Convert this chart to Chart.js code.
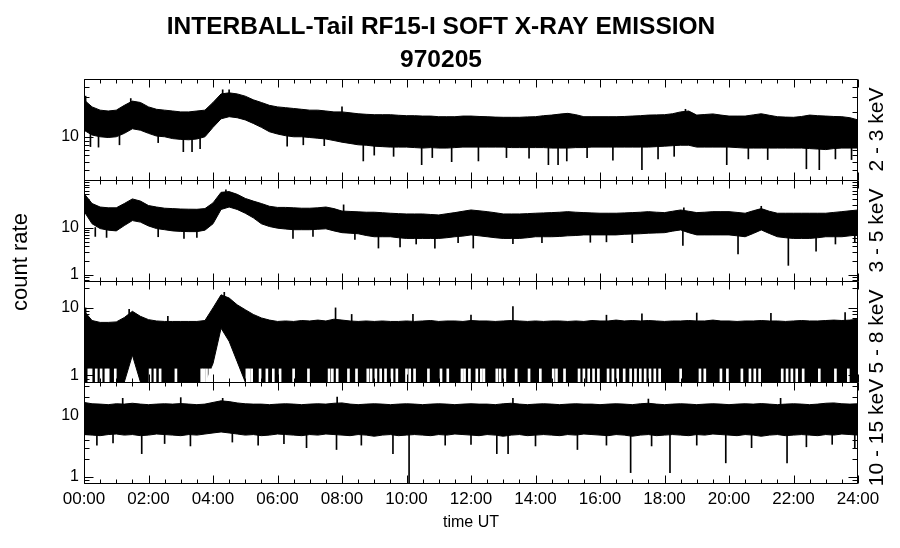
<!DOCTYPE html>
<html>
<head>
<meta charset="utf-8">
<title>INTERBALL-Tail RF15-I SOFT X-RAY EMISSION 970205</title>
<script src="https://cdn.jsdelivr.net/npm/chart.js@4.4.1/dist/chart.umd.min.js"></script>
<style>
  html, body { margin: 0; padding: 0; background: #fff; }
  #wrap { width: 900px; height: 548px; }
</style>
</head>
<body>
<div id="wrap"><canvas id="xray" width="900" height="548"></canvas></div>
<script>
// sample times, hours UT (15 min steps)
var hours = [
  0, 0.25, 0.5, 0.75, 1, 1.25, 1.5, 1.75, 2, 2.25, 2.5, 2.75,
  3, 3.25, 3.5, 3.75, 4, 4.25, 4.5, 4.75, 5, 5.25, 5.5, 5.75,
  6, 6.25, 6.5, 6.75, 7, 7.25, 7.5, 7.75, 8, 8.25, 8.5, 8.75,
  9, 9.25, 9.5, 9.75, 10, 10.25, 10.5, 10.75, 11, 11.25, 11.5, 11.75,
  12, 12.25, 12.5, 12.75, 13, 13.25, 13.5, 13.75, 14, 14.25, 14.5, 14.75,
  15, 15.25, 15.5, 15.75, 16, 16.25, 16.5, 16.75, 17, 17.25, 17.5, 17.75,
  18, 18.25, 18.5, 18.75, 19, 19.25, 19.5, 19.75, 20, 20.25, 20.5, 20.75,
  21, 21.25, 21.5, 21.75, 22, 22.25, 22.5, 22.75, 23, 23.25, 23.5, 23.75,
  24
];
var bandNames = ['2 - 3 keV', '3 - 5 keV', '5 - 8 keV', '10 - 15 keV'];

// upper / lower edge of the dense count-rate band, per energy channel
var p1Hi = [
  28, 23, 21, 20.5, 21, 24, 27, 26, 23, 21.5, 21, 20.5,
  20, 20, 20.5, 21, 26, 33, 34, 33, 31, 28, 26, 24,
  23, 22.5, 22, 21.5, 21, 21, 20.5, 20, 20, 19.5, 19, 18.7,
  18.5, 18.5, 18.5, 18.2, 18, 18, 17.8, 17.8, 17.5, 17.5, 17.5, 17.8,
  17.8, 17.6, 17.5, 17.3, 17.2, 17.2, 17.2, 17.4, 17.5, 18, 18.3, 18.8,
  19.2, 18.5, 17.5, 17.5, 17.5, 17.5, 17.5, 17.6, 17.8, 18, 18.3, 18.4,
  18.5, 19, 20, 20.5, 18.3, 18.6, 18.9, 18.3, 17.8, 17.8, 17.8, 18.4,
  19, 18.2, 17.5, 17.3, 17.2, 17.6, 18.3, 18, 17.8, 17.6, 17.5, 17,
  16
];
var p1Lo = [
  12, 10.5, 10, 9.8, 10, 11, 12.5, 12, 11, 10.2, 10, 9.5,
  9.3, 9.2, 9.4, 10, 13, 16.5, 17.5, 17, 16, 14.5, 13, 11.5,
  10.8, 10.3, 10, 10, 9.8, 9.6, 9.4, 9.0, 8.6, 8.3, 8.0, 7.9,
  7.7, 7.6, 7.5, 7.5, 7.5, 7.4, 7.3, 7.4, 7.3, 7.3, 7.4, 7.5,
  7.5, 7.5, 7.5, 7.5, 7.5, 7.4, 7.4, 7.4, 7.4, 7.4, 7.3, 7.3,
  7.3, 7.4, 7.4, 7.5, 7.5, 7.5, 7.5, 7.5, 7.5, 7.5, 7.5, 7.6,
  7.7, 7.8, 7.9, 7.9, 7.5, 7.5, 7.5, 7.5, 7.5, 7.4, 7.3, 7.3,
  7.3, 7.3, 7.3, 7.3, 7.3, 7.3, 7.2, 7.1, 7.0, 7.2, 7.3, 7.3,
  7.3
];
var p2Hi = [
  52, 32, 27, 26, 26, 32, 40, 36, 29, 27, 25.5, 25,
  24.5, 24.3, 24.2, 25, 33, 55, 57, 50, 41, 36, 32, 28,
  26.5, 26.5, 26, 25.5, 25.5, 26, 27, 25, 22.2, 21.8, 21.4, 21,
  21, 20.5, 20, 19.6, 19.3, 19.3, 19.3, 18.8, 18.4, 19.5, 20.6, 22,
  23.4, 22.5, 21.6, 20.5, 19.3, 19.3, 19.3, 19.6, 20, 20.3, 20.6, 21,
  21.6, 21, 20.6, 20.3, 20, 20, 20, 20.3, 20.6, 21, 21.6, 21,
  20.6, 22, 23.4, 22, 20.6, 21, 21.6, 21.6, 21.6, 20.8, 20, 22.5,
  25, 22, 20, 20, 20, 20, 20, 20, 20, 20.8, 21.6, 22.5,
  23.4
];
var p2Lo = [
  22, 12, 9.5, 8.8, 8.5, 11, 14, 13, 10.8, 9.5, 9, 8.5,
  8.3, 8.2, 8.2, 8.8, 12, 24, 27, 24, 20, 16, 12, 10.5,
  9.7, 9.3, 9, 9, 9, 9.2, 9.4, 8.5, 7.8, 7.6, 7.4, 6.8,
  6.4, 6.4, 6.4, 6.1, 5.9, 5.9, 5.9, 5.9, 5.9, 6.1, 6.4, 6.6,
  7.0, 6.7, 6.4, 6.1, 5.9, 5.9, 5.9, 6.1, 6.4, 6.4, 6.4, 6.5,
  6.7, 6.8, 7.0, 7.0, 7.0, 7.0, 7.0, 7.2, 7.3, 7.4, 7.6, 7.7,
  7.8, 8.4, 8.9, 7.8, 7.0, 7.0, 7.0, 7.0, 7.0, 6.7, 6.4, 7.5,
  8.9, 7.5, 6.4, 6.1, 5.9, 5.9, 5.9, 6.1, 6.4, 6.4, 6.4, 6.7,
  7.0
];
var p3Hi = [
  9, 6.5, 6.1, 6.1, 6.2, 7.2, 8.9, 7.5, 6.7, 6.4, 6.3, 6.3,
  6.3, 6.3, 6.3, 6.5, 10, 15.6, 14, 11.1, 9.4, 8.0, 7.1, 6.6,
  6.3, 6.4, 6.3, 6.5, 6.4, 6.6, 6.4, 6.8, 6.6, 6.4, 6.3, 6.4,
  6.3, 6.4, 6.3, 6.3, 6.4, 6.3, 6.4, 6.5, 6.3, 6.4, 6.4, 6.3,
  6.5, 6.4, 6.4, 6.3, 6.4, 6.5, 6.4, 6.3, 6.4, 6.3, 6.4, 6.4,
  6.3, 6.4, 6.3, 6.5, 6.4, 6.4, 6.6, 6.4, 6.5, 6.4, 6.5, 6.4,
  6.3, 6.4, 6.4, 6.5, 6.4, 6.4, 6.6, 6.4, 6.4, 6.3, 6.4, 6.4,
  6.5, 6.4, 6.4, 6.3, 6.4, 6.5, 6.4, 6.4, 6.5, 6.6, 6.5, 6.6,
  6.8
];
var p3Lo = [
  0.8, 0.8, 0.8, 0.8, 0.8, 0.8, 2.0, 0.8, 0.8, 0.8, 0.8, 0.8,
  0.8, 0.8, 0.8, 0.8, 1.5, 5.0, 3.2, 1.6, 0.8, 0.8, 0.8, 0.8,
  0.8, 0.8, 0.8, 0.8, 0.8, 0.8, 0.8, 0.8, 0.8, 0.8, 0.8, 0.8,
  0.8, 0.8, 0.8, 0.8, 0.8, 0.8, 0.8, 0.8, 0.8, 0.8, 0.8, 0.8,
  0.8, 0.8, 0.8, 0.8, 0.8, 0.8, 0.8, 0.8, 0.8, 0.8, 0.8, 0.8,
  0.8, 0.8, 0.8, 0.8, 0.8, 0.8, 0.8, 0.8, 0.8, 0.8, 0.8, 0.8,
  0.8, 0.8, 0.8, 0.8, 0.8, 0.8, 0.8, 0.8, 0.8, 0.8, 0.8, 0.8,
  0.8, 0.8, 0.8, 0.8, 0.8, 0.8, 0.8, 0.8, 0.8, 0.8, 0.8, 0.8,
  0.8
];
var p4Hi = [
  16.3, 15.5, 15.3, 15.0, 15.5, 15.3, 15.8, 15.3, 15.0, 15.3, 15.5, 15.3,
  15.6, 15.3, 15.0, 15.3, 16.3, 17.3, 16.8, 16.0, 15.5, 15.3, 15.3, 15.0,
  15.3, 15.5, 15.3, 15.0, 15.3, 15.5, 15.3, 15.8, 16.0, 15.3, 15.0, 15.3,
  15.5, 15.3, 15.0, 15.3, 15.5, 15.3, 15.0, 15.3, 15.5, 15.3, 15.0, 15.3,
  15.5, 15.3, 15.3, 15.0, 15.5, 15.8, 15.3, 15.0, 15.3, 15.5, 15.3, 15.0,
  15.3, 15.5, 15.3, 15.3, 15.0, 15.3, 15.5, 15.3, 15.0, 15.5, 15.8, 15.3,
  15.0, 15.3, 15.5, 15.3, 15.0, 15.3, 15.5, 15.3, 15.0, 15.3, 15.5, 15.3,
  15.6, 15.3, 15.0, 15.3, 15.5, 15.3, 15.0, 15.3, 15.8, 16.0, 15.5, 15.3,
  15.5
];
var p4Lo = [
  4.9, 4.8, 4.7, 4.9, 5.0, 4.8, 4.9, 4.7, 4.8, 5.0, 4.9, 4.8,
  4.7, 4.9, 4.8, 5.0, 5.2, 5.4, 5.2, 5.0, 4.8, 4.9, 4.7, 4.8,
  5.0, 4.9, 4.8, 4.7, 4.9, 4.8, 5.0, 4.9, 4.8, 4.7, 4.9, 4.8,
  4.6, 4.8, 4.9, 4.7, 4.8, 4.9, 4.8, 4.7, 4.9, 4.8, 5.0, 4.9,
  4.8, 4.7, 4.9, 4.8, 4.6, 4.8, 4.9, 4.7, 4.8, 4.9, 4.8, 4.7,
  4.9, 4.8, 5.0, 4.9, 4.8, 4.7, 4.9, 4.8, 4.6, 4.8, 4.9, 4.7,
  4.8, 4.9, 4.8, 4.7, 4.9, 4.8, 5.0, 4.9, 4.8, 4.7, 4.9, 4.8,
  4.6, 4.8, 4.9, 4.7, 4.8, 4.9, 4.8, 4.7, 4.9, 4.8, 5.0, 4.9,
  4.8
];

// single readings sticking out of the band (time, low end, high end)
var p1SpikeT = [0.05, 0.2, 0.45, 1.1, 1.45, 2.3, 3.08, 3.35, 3.6, 4.3, 4.5, 6.3, 6.8, 7.45, 8.0, 8.66, 9.0, 9.6, 10.47, 10.8,
  11.4, 12.23, 13.1, 13.8, 14.4, 14.7, 14.97, 15.6, 16.4, 17.3, 17.8, 18.3, 18.65, 19.93, 20.6, 21.2, 22.4, 22.8, 23.3, 23.8];
var p1SpikeLo = [15, 7.6, 7.5, 8.0, 18, 8.5, 6.6, 6.6, 7.2, 20, 20, 7.7, 8.0, 7.8, 12, 5.1, 6.0, 5.8, 4.6, 5.6,
  5.0, 5.1, 5.6, 5.5, 4.6, 4.6, 5.1, 5.6, 5.2, 4.0, 5.4, 5.8, 12, 4.6, 5.4, 5.3, 4.1, 4.0, 5.4, 5.3];
var p1SpikeHi = [31, 11, 11, 11, 29, 11, 10, 10, 10, 37, 37, 11, 11, 11, 23, 9, 9, 9, 9, 9,
  9, 9, 9, 9, 9, 9, 9, 9, 9, 9, 9, 9, 21.5, 9, 9, 9, 9, 9, 9, 9];

var p2SpikeT = [0.35, 0.7, 2.3, 3.1, 3.5, 4.4, 6.48, 7.1, 8.05, 8.4, 9.13, 9.8, 10.3, 10.88, 11.6,
  12.07, 13.3, 14.2, 15.7, 16.2, 17.0, 18.57, 18.6, 20.28, 21.0, 21.84, 22.7, 23.3, 23.9];
var p2SpikeLo = [6.5, 6.2, 6.4, 5.9, 6.2, 30, 5.9, 6.5, 12, 5.6, 3.7, 3.9, 4.5, 3.7, 4.8,
  3.7, 4.6, 4.8, 4.9, 5.0, 4.8, 4.2, 12, 2.8, 12, 1.6, 3.2, 4.5, 5.0];
var p2SpikeHi = [10, 10, 10, 10, 10, 62, 10, 10, 30, 9, 9, 9, 9, 9, 9,
  9, 9, 9, 9, 9, 9, 9, 26, 9, 28, 9, 9, 9, 9];

var p3SpikeT = [0.05, 1.4, 2.6, 4.35, 7.8, 8.3, 10.2, 12.0, 13.3, 16.2, 17.3, 19.0, 21.3, 23.6];
var p3SpikeLo = [5, 5, 4, 8, 5, 5, 5, 5, 5, 5, 5, 5, 5, 5];
var p3SpikeHi = [10, 9.5, 7.5, 17, 10, 8, 8, 7.8, 10.5, 7.8, 8.2, 8.4, 8.3, 8.5];

// times where the 5-8 keV channel has no zero-count readings (white columns at the bottom)
var p3GapT = [0.15, 0.22, 0.38, 0.53, 0.68, 0.75, 0.97, 2.05, 2.2, 2.36, 2.85, 3.65, 3.72, 3.8, 3.9,
  5.05, 5.12, 5.2, 5.46, 5.67, 5.87, 6.08, 6.5, 6.96, 7.6, 7.7, 7.85, 8.2, 8.45, 8.8, 8.9, 9.05,
  9.2, 9.35, 9.55, 9.7, 10.0, 10.1, 10.25, 10.68, 11.07, 11.28, 11.72, 11.8, 11.95, 12.18, 12.32,
  12.4, 12.8, 12.9, 13.05, 13.4, 13.8, 14.15, 14.55, 14.65, 14.9, 15.35, 15.5, 15.65, 15.8, 15.95,
  16.25, 16.4, 16.55, 16.75, 16.95, 17.1, 17.25, 17.4, 17.55, 17.7, 17.85, 18.5, 19.1, 19.25,
  19.75, 19.95, 20.4, 20.65, 20.8, 20.95, 21.65, 21.8, 21.95, 22.1, 22.3, 22.8, 23.3, 23.7];
var p3GapTop = 1.25;

var p4SpikeT = [0.4, 0.9, 1.2, 1.79, 2.5, 3.0, 3.3, 4.3, 4.6, 5.4, 6.2, 6.9, 7.83, 7.85, 8.6, 9.58, 10.08,
  11.2, 12.0, 12.8, 13.15, 13.3, 14.0, 15.3, 16.2, 16.95, 17.5, 17.6, 18.17, 19.0, 19.9, 20.7, 21.6,
  21.8, 22.4, 23.2, 23.9];
var p4SpikeLo = [3.3, 3.6, 10, 2.4, 3.5, 10, 3.2, 10, 3.7, 3.3, 3.5, 3.0, 2.8, 10, 3.3, 2.4, 0.8,
  3.3, 3.4, 2.4, 2.4, 10, 3.2, 2.8, 3.3, 1.18, 10, 3.2, 1.18, 3.3, 1.7, 3.0, 10,
  1.7, 3.1, 3.4, 2.9];
var p4SpikeHi = [8, 8, 19, 8, 8, 19.5, 8, 19, 8, 8, 8, 8, 8, 20, 8, 8, 8,
  8, 8, 8, 8, 19, 8, 8, 8, 8, 18.5, 8, 8, 8, 8, 8, 19,
  8, 8, 8, 8];

var FONT = '"Liberation Sans", Arial, Helvetica, sans-serif';
Chart.defaults.font.family = FONT;
Chart.defaults.color = '#000';

var panelIds = ['p1', 'p2', 'p3', 'p4'];

function band(hi, lo, axis) {
  return [{
    type: 'line',
    data: hours.map(function (h, i) { return { x: h, y: hi[i] }; }),
    yAxisID: axis,
    borderColor: '#000',
    borderWidth: 1,
    pointRadius: 0,
    fill: false
  }, {
    type: 'line',
    data: hours.map(function (h, i) { return { x: h, y: lo[i] }; }),
    yAxisID: axis,
    borderColor: '#000',
    borderWidth: 1,
    pointRadius: 0,
    backgroundColor: '#000',
    fill: '-1'
  }];
}

function spikes(t, lo, hi, axis, color, width) {
  return {
    type: 'bar',
    data: t.map(function (v, i) { return { x: v, y: [lo[i], hi[i]] }; }),
    yAxisID: axis,
    backgroundColor: color,
    barThickness: width,
    grouped: false,
    order: -1
  };
}

function logAxis(min, max) {
  return {
    type: 'logarithmic',
    position: 'left',
    stack: 'panels',
    stackWeight: 1,
    min: min,
    max: max,
    grid: { display: false, drawTicks: false },
    border: { display: false },
    ticks: {
      autoSkip: false,
      padding: 5,
      font: { size: 16 },
      callback: function (v) { return (v === 1 || v === 10) ? String(v) : ''; }
    },
    afterFit: function (s) { s.width = 84; }
  };
}

// frames, inward tick marks and the rotated side labels
var panelFrames = {
  id: 'panelFrames',
  afterDatasetsDraw: function (chart) {
    var ctx = chart.ctx, area = chart.chartArea, xs = chart.scales.x;
    var left = Math.round(area.left) + 0.5, right = Math.round(area.right) - 0.5;
    ctx.save();
    ctx.strokeStyle = '#000';
    ctx.lineWidth = 1;
    ctx.beginPath();
    panelIds.forEach(function (id) {
      var s = chart.scales[id];
      var top = Math.round(s.top) + 0.5, bot = Math.round(s.bottom) + 0.5;
      ctx.rect(left, top, right - left, bot - top);
      for (var h = 0; h <= 24; h += 0.5) {
        var px = Math.round(xs.getPixelForValue(h)) + 0.5;
        var len = (h % 2 === 0) ? 8 : 4;
        ctx.moveTo(px, top); ctx.lineTo(px, top + len);
        ctx.moveTo(px, bot); ctx.lineTo(px, bot - len);
      }
      var k0 = Math.floor(Math.log10(s.min)), k1 = Math.floor(Math.log10(s.max));
      for (var k = k0; k <= k1; k++) {
        for (var m = 1; m <= 9; m++) {
          var v = m * Math.pow(10, k);
          if (v < s.min * 0.999 || v > s.max * 1.001) continue;
          var py = Math.round(s.getPixelForValue(v)) + 0.5;
          var tl = (m === 1) ? 9 : 5;
          ctx.moveTo(left, py); ctx.lineTo(left + tl, py);
          ctx.moveTo(right, py); ctx.lineTo(right - tl, py);
        }
      }
    });
    ctx.stroke();
    ctx.restore();
  },
  afterDraw: function (chart) {
    var ctx = chart.ctx;
    ctx.save();
    ctx.fillStyle = '#000';
    ctx.textAlign = 'center';
    ctx.textBaseline = 'middle';
    ctx.font = '22px ' + FONT;
    ctx.save();
    ctx.translate(21, 262);
    ctx.rotate(-Math.PI / 2);
    ctx.fillText('count rate', 0, 0);
    ctx.restore();
    ctx.font = '21px ' + FONT;
    panelIds.forEach(function (id, i) {
      var s = chart.scales[id];
      ctx.save();
      ctx.translate(877, (s.top + s.bottom) / 2);
      ctx.rotate(-Math.PI / 2);
      ctx.fillText(bandNames[i], 0, 0);
      ctx.restore();
    });
    ctx.restore();
  }
};

var datasets = []
  .concat(band(p1Hi, p1Lo, 'p1'))
  .concat(band(p2Hi, p2Lo, 'p2'))
  .concat(band(p3Hi, p3Lo, 'p3'))
  .concat(band(p4Hi, p4Lo, 'p4'));
datasets.push(spikes(p1SpikeT, p1SpikeLo, p1SpikeHi, 'p1', '#000', 1));
datasets.push(spikes(p2SpikeT, p2SpikeLo, p2SpikeHi, 'p2', '#000', 1));
datasets.push(spikes(p3SpikeT, p3SpikeLo, p3SpikeHi, 'p3', '#000', 1));
datasets.push(spikes(p4SpikeT, p4SpikeLo, p4SpikeHi, 'p4', '#000', 1));
datasets.push(spikes(p3GapT, p3GapT.map(function () { return 0.8; }),
  p3GapT.map(function () { return p3GapTop; }), 'p3', '#fff', 2));

var ctx = document.getElementById('xray').getContext('2d');
var xrayChart = new Chart(ctx, {
  type: 'line',
  data: { datasets: datasets },
  plugins: [panelFrames],
  options: {
    responsive: false,
    animation: false,
    events: [],
    layout: { padding: { left: 0, right: 18, top: 0, bottom: 0 } },
    plugins: {
      legend: { display: false },
      tooltip: { enabled: false },
      title: {
        display: true,
        text: ['INTERBALL-Tail RF15-I SOFT X-RAY EMISSION', '970205'],
        color: '#000',
        font: { size: 24.5, weight: 'bold', lineHeight: 33 / 24.5 },
        padding: { top: 10.5, bottom: 2.5 }
      }
    },
    scales: {
      x: {
        type: 'linear',
        position: 'bottom',
        offset: false,
        min: 0,
        max: 24,
        grid: { display: false, drawTicks: false, offset: false },
        border: { display: false },
        ticks: {
          stepSize: 2,
          autoSkip: false,
          maxRotation: 0,
          padding: 6,
          font: { size: 17 },
          callback: function (v) { return (v < 10 ? '0' : '') + v + ':00'; }
        },
        title: { display: true, text: 'time UT', font: { size: 16 }, padding: { top: 0, bottom: 16 } },
        afterFit: function (s) { s.height = 65; }
      },
      p4: logAxis(0.8, 35),
      p3: logAxis(0.8, 25),
      p2: logAxis(0.75, 100),
      p1: logAxis(3, 50),
      yr: {
        type: 'linear',
        position: 'right',
        grid: { display: false, drawTicks: false },
        border: { display: false },
        ticks: { display: false },
        afterFit: function (s) { s.width = 24; }
      }
    }
  }
});
</script>
</body>
</html>
